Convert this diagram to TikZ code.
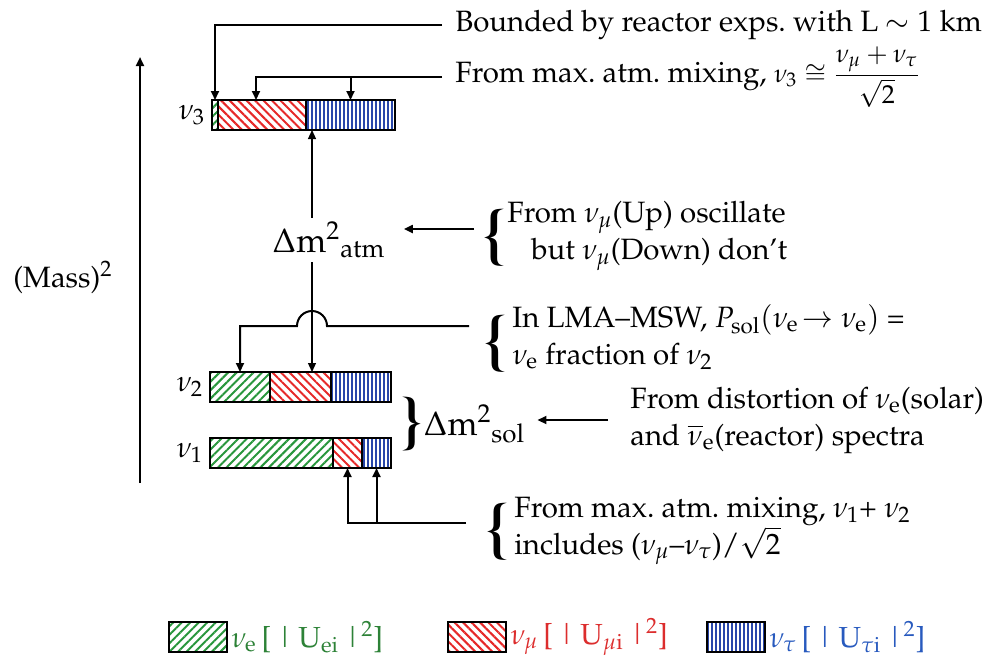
\documentclass[tikz,border=0pt]{standalone}
\usepackage[T1]{fontenc}
\usepackage{amsmath}
\usepackage{mathpazo}
\usepackage{xcolor}
\usepackage{tikz}
\usetikzlibrary{arrows.meta,positioning,calc,patterns.meta}
\definecolor{neGreen}{RGB}{40,150,60}
\definecolor{nmRed}{RGB}{230,40,40}
\definecolor{ntBlue}{RGB}{40,70,170}
\definecolor{legGreen}{RGB}{45,130,55}
\definecolor{legRed}{RGB}{220,45,45}
\definecolor{legBlue}{RGB}{40,90,190}

\begin{document}
\begin{tikzpicture}[x=0.5pt,y=-0.5pt,font=\fontsize{14.7}{18.5}\selectfont,
  conn/.style={draw,line width=1pt,-{Triangle[length=4.5pt,width=4pt]}},
  thinconn/.style={conn,line width=0.6pt},
  seg/.style={draw,line width=0.6pt,inner sep=0pt,outer sep=0pt,minimum height=15pt,anchor=west},
  segE/.style={seg,pattern={Lines[angle=45,distance=3pt,line width=1pt]},pattern color=neGreen},
  segM/.style={seg,pattern={Lines[angle=-45,distance=3pt,line width=1pt]},pattern color=nmRed},
  segT/.style={seg,pattern={Lines[angle=90,distance=2pt,line width=0.7pt]},pattern color=ntBlue},
  key/.style={line width=0.9pt,minimum width=29pt},
  keytext/.style={right=2pt of #1,inner sep=0pt,font=\fontsize{14.5}{17}\selectfont},
  note/.style={anchor=west,inner sep=0pt,align=left},
  brace/.style={inner sep=0pt,font=\fontsize{34}{34}\selectfont\bfseries},
  big/.style={font=\fontsize{17}{20}\selectfont,inner sep=2pt}]
\useasboundingbox (0,0) rectangle (996,660);
% mass axis
\coordinate (axB) at (140,483);
\coordinate (axT) at (140,57);
\draw[conn,line width=1.1pt] (axB) -- (axT);
\node (mass) at (63,277) {(Mass)\textsuperscript{2}};
% the three mass states
\node[segE,minimum width=3pt] (v3e) at (212,115) {};
\node[segM,minimum width=44pt,right=0pt of v3e] (v3m) {};
\node[segT,minimum width=44.5pt,right=0pt of v3m] (v3t) {};
\node[left=0pt of v3e] (n3) {$\nu_3$};
\node[segE,minimum width=30pt] (v2e) at (210,387) {};
\node[segM,minimum width=30.5pt,right=0pt of v2e] (v2m) {};
\node[segT,minimum width=30pt,right=0pt of v2m] (v2t) {};
\node[left=0pt of v2e] (n2) {$\nu_2$};
\node[segE,minimum width=61.5pt] (v1e) at (210,453) {};
\node[segM,minimum width=14.5pt,right=0pt of v1e] (v1m) {};
\node[segT,minimum width=14.5pt,right=0pt of v1m] (v1t) {};
\node[left=0pt of v1e] (n1) {$\nu_1$};
% top notes
\node[note] (bnd) at (455,25) {Bounded by reactor exps.\ with L $\sim$ 1 km};
\draw[conn,shorten <=6.5pt] (bnd.west) -| (v3e.north);
\node[note] (mx3) at (455,77) {From max.\ atm.\ mixing, {\fontsize{13}{15}\selectfont$\nu_3\cong\dfrac{\nu_\mu+\nu_\tau}{\sqrt{2}}$}};
\draw[conn,shorten <=6.5pt] (mx3.west) -| ([xshift=19pt]v3m.north west);
\draw[conn] (v3t.north |- mx3.west) -- (v3t.north);
% atmospheric splitting
\node[big] (datm) at (329,240) {$\Delta\mathrm{m}^{2}{}_{\mathrm{atm}}$};
\coordinate (atmx) at (312,0);
\draw[thinconn] (atmx |- datm.north) -- (atmx |- v3m.south);
\draw[thinconn] (atmx |- datm.south) -- (atmx |- v2m.north);
\node[brace] (upb) at (495,238) {\{};
\node[note] (upn) at (507,236) {From $\nu_\mu$(Up) oscillate\\ \hspace{12pt}but $\nu_\mu$(Down) don't};
\coordinate (upIn) at ([xshift=-5pt,yshift=4.5pt]upb.west);
\draw[conn,shorten >=7pt] (upIn) -- (upIn -| datm.east);
% LMA note with hop over the atm line
\node[brace] (lmab) at (496,344) {\{};
\node[note] (lma) at (512,337) {In LMA--MSW, $P_{\mathrm{sol}}(\nu_{\mathrm e}\!\rightarrow\nu_{\mathrm e})$ =\\ $\nu_{\mathrm e}$ fraction of $\nu_2$};
\coordinate (lmaIn) at ([xshift=-8pt,yshift=9pt]lmab.west);
\draw[conn] (lmaIn) -- ([xshift=7.5pt]atmx |- lmaIn)
  arc[start angle=0,end angle=180,radius=7.5pt] -| (v2e.north);
% solar splitting
\node[brace,font=\fontsize{32}{32}\selectfont\bfseries] (solbr) at (411,424) {\}};
\node[big,anchor=west,inner sep=0pt,right=1pt of solbr] (dsol) {$\Delta\mathrm{m}^{2}{}_{\mathrm{sol}}$};
\node[note] (dist) at (630,420) {From distortion of $\nu_{\mathrm e}$(solar)\\ and $\overline{\nu}_{\mathrm e}$(reactor) spectra};
\draw[conn,shorten <=11pt,shorten >=6pt] (dist.west) -- (dist.west -| dsol.east);
% bottom note
\node[brace] (mx12b) at (498,532) {\{};
\node[note] (mx12) at (514,531) {From max.\ atm.\ mixing, $\nu_1$+ $\nu_2$\\ includes ($\nu_\mu$--$\nu_\tau$)/$\sqrt{2}$};
\coordinate (mxIn) at ([xshift=-10.5pt,yshift=4.5pt]mx12b.west);
\draw[conn] (mxIn) -| (v1m.south);
\draw[conn] (v1t.south |- mxIn) -- (v1t.south);
% legend
\node[segE,key] (kE) at (169,637) {};
\node[keytext=kE,text=legGreen] (kEt) {$\nu_{\mathrm e}$\,[\,|\,U$_{\mathrm{ei}}$\,|$^2$]};
\node[segM,key] (kM) at (448,637) {};
\node[keytext=kM,text=legRed] (kMt) {$\nu_\mu$\,[\,|\,U$_{\mu\mathrm{i}}$\,|$^2$]};
\node[segT,key] (kT) at (707,637) {};
\node[keytext=kT,text=legBlue] (kTt) {$\nu_\tau$\,[\,|\,U$_{\tau\mathrm{i}}$\,|$^2$]};
\end{tikzpicture}
\end{document}
